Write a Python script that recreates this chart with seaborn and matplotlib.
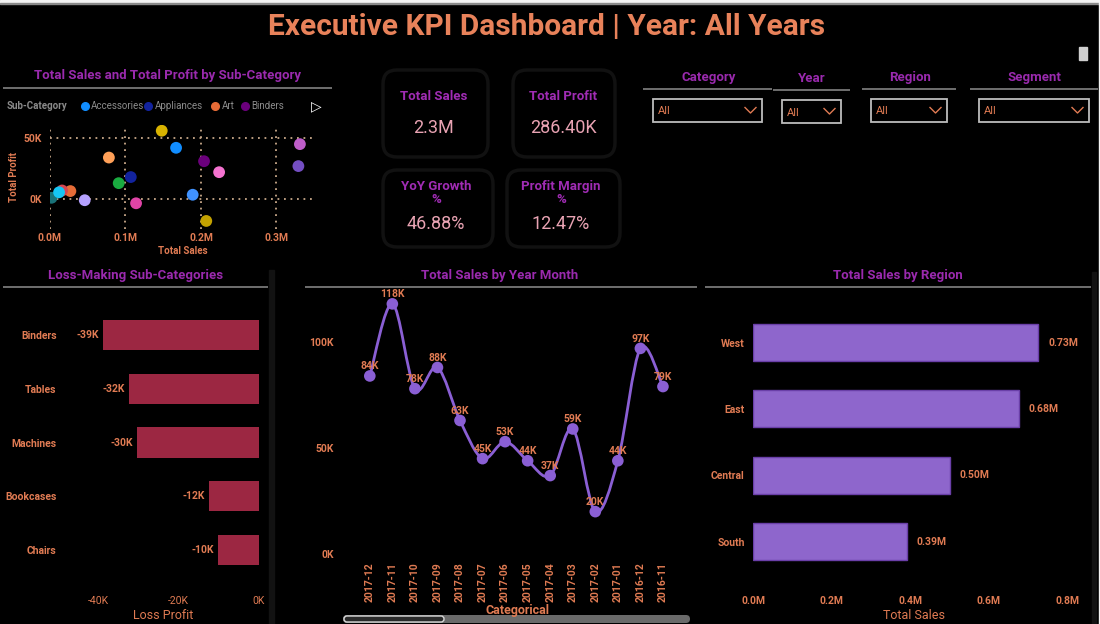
import numpy as np
import pandas as pd
import matplotlib
matplotlib.use("Agg")
import matplotlib.pyplot as plt
import seaborn as sns
from matplotlib.patches import Rectangle, FancyBboxPatch, PathPatch
from matplotlib.path import Path

# ---------------- data ----------------
sub_categories = ["Accessories", "Appliances", "Art", "Binders", "Bookcases", "Chairs",
                  "Copiers", "Envelopes", "Fasteners", "Furnishings", "Labels", "Machines",
                  "Paper", "Phones", "Storage", "Supplies", "Tables"]
sub_sales_m = [0.167, 0.107, 0.027, 0.204, 0.114, 0.329, 0.148, 0.016, 0.002, 0.091,
               0.012, 0.189, 0.078, 0.331, 0.224, 0.046, 0.207]
sub_profit_k = [42, 18, 6.5, 31, -3.5, 27, 56, 7, 1, 13, 5.5, 3.5, 34, 45, 22, -1, -18]
sub_colors = ["#118DFF", "#12239E", "#E66C37", "#6B007B", "#E044A7", "#744EC2",
              "#D9B300", "#D64550", "#197278", "#1AAB40", "#15C6F4", "#4092FF",
              "#FFA058", "#BE5DC9", "#F472D0", "#B5A1FF", "#C4A200"]
legend_shown = ["Accessories", "Appliances", "Art", "Binders"]

kpi_titles = ["Total Sales", "Total Profit", "YoY Growth\n%", "Profit Margin\n%"]
kpi_values = ["2.3M", "286.40K", "46.88%", "12.47%"]

slicer_titles = ["Category", "Year", "Region", "Segment"]
slicer_values = ["All", "All", "All", "All"]

loss_categories = ["Binders", "Tables", "Machines", "Bookcases", "Chairs"]
loss_profit_k = [-38.8, -32.4, -30.3, -12.4, -10.1]
loss_ticks_k = [-40, -20, 0]

month_labels = ["2017-12", "2017-11", "2017-10", "2017-09", "2017-08", "2017-07", "2017-06",
                "2017-05", "2017-04", "2017-03", "2017-02", "2017-01", "2016-12", "2016-11"]
month_sales_k = [84, 118, 78, 88, 63, 45, 53, 44, 37, 59, 20, 44, 97, 79]
month_ticks_k = [0, 50, 100]

regions = ["West", "East", "Central", "South"]
region_sales_m = [0.727, 0.678, 0.501, 0.392]
region_ticks_m = [0.0, 0.2, 0.4, 0.6, 0.8]

# ---------------- style ----------------
W, H = 1100, 624
BG = "#000000"
ORANGE = "#E8825A"
AX_ORANGE = "#E07B53"
PURPLE = "#9A2AAE"
KPI_PINK = "#E9A3B3"
SEP = "#707070"
LINE_PURPLE = "#8A5FD4"
LOSS_RED = "#9C2742"
REGION_PURPLE = "#8E66CC"

plt.rcParams["font.family"] = ["Roboto", "DejaVu Sans"]

fig = plt.figure(figsize=(W / 100, H / 100), dpi=100, facecolor=BG)

bg = fig.add_axes([0, 0, 1, 1])
bg.set_xlim(0, W)
bg.set_ylim(H, 0)
bg.axis("off")
bg.set_facecolor(BG)


def add_ax(l, t, r, b):
    ax = fig.add_axes([l / W, 1 - b / H, (r - l) / W, (b - t) / H])
    ax.set_facecolor("none")
    for s in ax.spines.values():
        s.set_visible(False)
    ax.tick_params(length=0, colors=AX_ORANGE, labelsize=7.5)
    return ax


def sep_line(x0, x1, y):
    bg.plot([x0, x1], [y, y], color=SEP, lw=1.4, solid_capstyle="butt")


def panel_title(x, y, s, size=9.5):
    bg.text(x, y, s, color=PURPLE, fontsize=size, fontweight="bold", ha="center", va="center")


# borders / shadows
bg.add_patch(Rectangle((0, 0), W, 2.5, color="#f4f4f4", zorder=5))
bg.add_patch(Rectangle((0, 2.5), W, 1, color="#8a8a8a", zorder=5))
bg.add_patch(Rectangle((W - 1.5, 0), 1.5, H, color="#f4f4f4", zorder=5))
bg.add_patch(Rectangle((269, 270), 5, 354, color="#121212"))
bg.add_patch(Rectangle((1092, 272), 4, 352, color="#121212"))
bg.add_patch(Rectangle((1079, 47), 8, 13, color="#cfcfcf"))

# main title
bg.text(547, 27, "Executive KPI Dashboard | Year: All Years", color=ORANGE, fontsize=21.5,
        fontweight="bold", ha="center", va="center")

# ---------------- scatter ----------------
panel_title(167, 76, "Total Sales and Total Profit by Sub-Category")
sep_line(3, 332, 88)
bg.text(7, 106, "Sub-Category", color="#8a8a8a", fontsize=7, fontweight="bold", va="center")
leg_pos = [(85, 91), (148, 155), (215, 222), (245, 251)]
for name, (dx, tx) in zip(legend_shown, leg_pos):
    c = sub_colors[sub_categories.index(name)]
    bg.plot(dx, 106, "o", ms=5.5, color=c)
    bg.text(tx, 106, name, color="#8c8c8c", fontsize=7, va="center")
bg.text(316, 106, "▷", color="white", fontsize=10, fontweight="bold", ha="center", va="center",
        family=["DejaVu Sans"])

sub_df = pd.DataFrame({"sub": sub_categories, "sales": sub_sales_m, "profit": sub_profit_k})
ax1 = add_ax(50, 125, 315, 229)
ax1.set_axisbelow(True)
sns.scatterplot(data=sub_df, x="sales", y="profit", hue="sub",
                palette=dict(zip(sub_categories, sub_colors)), s=72, edgecolor="none",
                legend=False, ax=ax1, zorder=3)
ax1.set_xlim(0, 0.351)
ax1.set_ylim(-24.6, 60.7)
ax1.set_xticks([0, 0.1, 0.2, 0.3])
ax1.set_xticklabels(["0.0M", "0.1M", "0.2M", "0.3M"], fontweight="bold")
ax1.set_yticks([0, 50])
ax1.set_yticklabels(["0K", "50K"], fontweight="bold")
ax1.tick_params(axis="x", pad=3)
ax1.tick_params(axis="y", pad=6)
ax1.grid(True, linestyle=(0, (1, 2.6)), color="#c9a98a", lw=1.3)
ax1.set_xlabel("Total Sales", color=AX_ORANGE, fontsize=7, fontweight="bold", labelpad=2)
ax1.set_ylabel("Total Profit", color=AX_ORANGE, fontsize=7, fontweight="bold", labelpad=3)

# ---------------- KPI cards ----------------
cards = [(383, 70, 488, 157), (513, 70, 615, 157), (383, 170, 493, 247), (507, 170, 620, 247)]
for (l, t, r, b) in cards:
    bg.add_patch(FancyBboxPatch((l, t), r - l, b - t,
                                boxstyle="round,pad=0,rounding_size=14",
                                fc="none", ec="#111111", lw=2.5))
kpi_pos = [((434, 96), (434, 128)), ((563, 96), (563, 128)),
           ((436, 193), (436, 224)), ((561, 193), (561, 224))]
for title, val, (tp, vp) in zip(kpi_titles, kpi_values, kpi_pos):
    bg.text(tp[0], tp[1], title, color="#A02CB4", fontsize=9.5, fontweight="bold",
            ha="center", va="center", linespacing=1.05)
    bg.text(vp[0], vp[1], val, color=KPI_PINK, fontsize=13, ha="center", va="center")

# ---------------- slicers ----------------
slicer_geo = [
    ((709, 77), (643, 772, 89), (653, 99, 762, 122)),
    ((812, 78), (773, 850, 90), (782, 100, 841, 123)),
    ((910, 77), (862, 956, 89), (871, 99, 947, 122)),
    ((1035, 77), (970, 1098, 89), (979, 99, 1089, 122)),
]
for title, val, (tp, ln, box) in zip(slicer_titles, slicer_values, slicer_geo):
    panel_title(tp[0], tp[1], title, size=9.5)
    sep_line(ln[0], ln[1], ln[2])
    l, t, r, b = box
    bg.add_patch(Rectangle((l, t), r - l, b - t, fc="none", ec="#bdbdbd", lw=1.3))
    cy = (t + b) / 2
    bg.text(l + 5, cy + 1, val, color=AX_ORANGE, fontsize=8, va="center")
    bg.plot([r - 17, r - 11.5, r - 6], [cy - 3, cy + 2.5, cy - 3], color=AX_ORANGE, lw=1)

# ---------------- loss-making bars ----------------
panel_title(136, 275, "Loss-Making Sub-Categories")
sep_line(3, 268, 287)
loss_df = pd.DataFrame({"cat": loss_categories, "loss": loss_profit_k})
ax2 = add_ax(65, 300, 262, 592)
sns.barplot(data=loss_df, x="loss", y="cat", orient="h", color=LOSS_RED, width=0.56,
            saturation=1, ax=ax2)
ax2.set_xlim(-48.2, 0.75)
ax2.set_ylim(4.78, -0.65)
ax2.set_xticks(loss_ticks_k)
ax2.set_xticklabels([f"{v}K" for v in loss_ticks_k])
ax2.set_yticks(range(len(loss_categories)))
ax2.set_yticklabels(loss_categories, fontweight="bold")
ax2.tick_params(axis="x", pad=3)
ax2.tick_params(axis="y", pad=6)
ax2.bar_label(ax2.containers[0], labels=[f"{v:.0f}K" for v in loss_profit_k], padding=3,
              color=AX_ORANGE, fontsize=7.5, fontweight="bold")
ax2.set_xlabel("Loss Profit", color=AX_ORANGE, fontsize=9, labelpad=2)
ax2.set_ylabel("")

# ---------------- line chart ----------------
panel_title(500, 275, "Total Sales by Year Month")
sep_line(305, 697, 287)
ax3 = add_ax(345, 292, 690, 557)
xs = np.arange(len(month_labels), dtype=float)
ys = np.array(month_sales_k, dtype=float)
pts = np.column_stack([xs, ys])
verts = [tuple(pts[0])]
codes = [Path.MOVETO]
n = len(pts)
for i in range(n - 1):
    p0 = pts[max(i - 1, 0)]
    p1 = pts[i]
    p2 = pts[i + 1]
    p3 = pts[min(i + 2, n - 1)]
    c1 = p1 + (p2 - p0) / 6.0
    c2 = p2 - (p3 - p1) / 6.0
    verts += [tuple(c1), tuple(c2), tuple(p2)]
    codes += [Path.CURVE4] * 3
ax3.add_patch(PathPatch(Path(verts, codes), fc="none", ec=LINE_PURPLE, lw=2, zorder=2))
month_df = pd.DataFrame({"pos": xs, "sales": ys})
sns.scatterplot(data=month_df, x="pos", y="sales", color=LINE_PURPLE, s=70, edgecolor="none",
                ax=ax3, zorder=3)
for xv, yv in zip(xs, month_sales_k):
    ax3.annotate(f"{yv}K", (xv, yv), xytext=(0, 7), textcoords="offset points", ha="center",
                 va="center", color=AX_ORANGE, fontsize=7.5, fontweight="bold", zorder=4)
ax3.set_xlim(-1.1, 14.2)
ax3.set_ylim(-1.4, 123.6)
ax3.set_xticks(xs)
ax3.set_xticklabels(month_labels, rotation=90, fontweight="bold")
ax3.set_yticks(month_ticks_k)
ax3.set_yticklabels([f"{v}K" for v in month_ticks_k], fontweight="bold")
ax3.tick_params(axis="x", pad=4)
ax3.tick_params(axis="y", pad=8)
ax3.set_xlabel("Categorical", color=AX_ORANGE, fontsize=9, fontweight="bold", labelpad=1)
ax3.set_ylabel("")
bg.add_patch(FancyBboxPatch((343, 615), 347, 8, boxstyle="round,pad=0,rounding_size=4",
                            fc="#6a6a6a", ec="none"))
bg.add_patch(FancyBboxPatch((344, 616), 100, 6, boxstyle="round,pad=0,rounding_size=3",
                            fc="#2a2a2a", ec="#d8d8d8", lw=1))

# ---------------- region bars ----------------
panel_title(898, 275, "Total Sales by Region")
sep_line(705, 1091, 287)
region_df = pd.DataFrame({"region": regions, "sales": region_sales_m})
ax4 = add_ax(753, 305, 1075, 592)
sns.barplot(data=region_df, x="sales", y="region", orient="h", color=REGION_PURPLE,
            width=0.56, saturation=1, edgecolor="#6A3FA8", linewidth=1, ax=ax4)
ax4.set_xlim(0, 0.82)
ax4.set_ylim(3.76, -0.566)
ax4.set_xticks(region_ticks_m)
ax4.set_xticklabels([f"{v:.1f}M" for v in region_ticks_m], fontweight="bold")
ax4.set_yticks(range(len(regions)))
ax4.set_yticklabels(regions, fontweight="bold")
ax4.tick_params(axis="x", pad=3)
ax4.tick_params(axis="y", pad=6)
ax4.bar_label(ax4.containers[0], labels=[f"{v:.2f}M" for v in region_sales_m], padding=7,
              color=AX_ORANGE, fontsize=7.5, fontweight="bold")
ax4.set_xlabel("Total Sales", color=AX_ORANGE, fontsize=9, labelpad=2)
ax4.set_ylabel("")

fig.savefig("out.png", dpi=100, facecolor=BG)
